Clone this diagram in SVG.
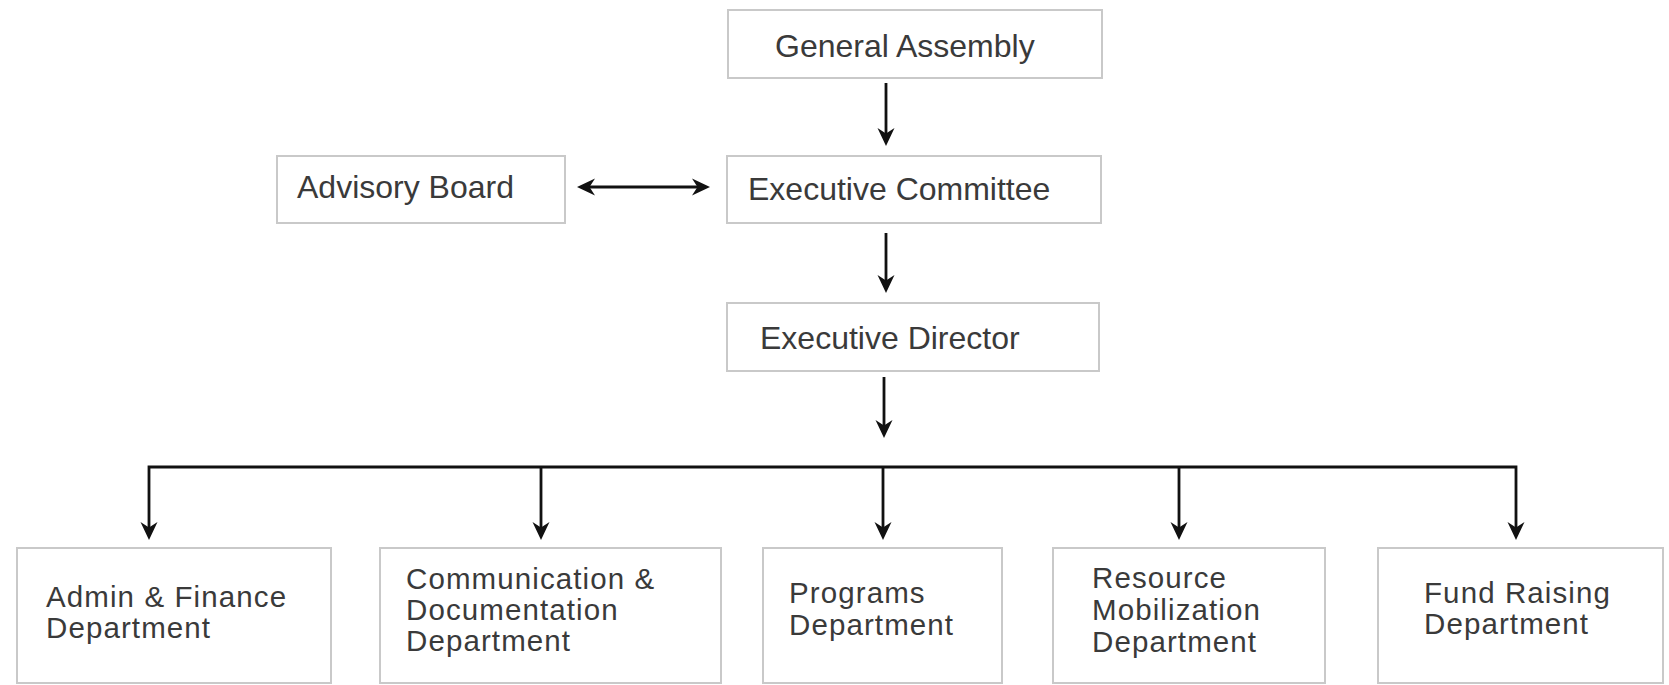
<svg xmlns="http://www.w3.org/2000/svg" width="1669" height="685" viewBox="0 0 1669 685">
<style>
.box{fill:#ffffff;stroke:#c9c9c9;stroke-width:2}
.lbl{font-family:"Liberation Sans",Arial,Helvetica,sans-serif;font-size:32px;fill:#3a3a3a}
.lbl2{font-family:"Liberation Sans",Arial,Helvetica,sans-serif;font-size:29.5px;letter-spacing:1.1px;fill:#3a3a3a}
.con{fill:none;stroke:#111111;stroke-width:2.8;stroke-linejoin:miter}
</style>
<defs>
<marker id="ah" viewBox="-9 -9 18 18" refX="0" refY="0" markerWidth="18" markerHeight="18" markerUnits="userSpaceOnUse" orient="auto-start-reverse">
<path d="M9,0 L-9,-8.5 L-3.5,0 L-9,8.5 Z" fill="#111111"/>
</marker>
</defs>
<rect width="1669" height="685" fill="#ffffff"/>
<g id="connectors">
<line class="con" x1="886" y1="83" x2="886" y2="137" marker-end="url(#ah)"/>
<line class="con" x1="886" y1="233" x2="886" y2="284" marker-end="url(#ah)"/>
<line class="con" x1="884" y1="377" x2="884" y2="429" marker-end="url(#ah)"/>
<line class="con" x1="586" y1="187" x2="701" y2="187" marker-start="url(#ah)" marker-end="url(#ah)"/>
<path class="con" d="M149,531 V467 H1516 V531" marker-start="url(#ah)" marker-end="url(#ah)"/>
<line class="con" x1="541" y1="467" x2="541" y2="531" marker-end="url(#ah)"/>
<line class="con" x1="883" y1="467" x2="883" y2="531" marker-end="url(#ah)"/>
<line class="con" x1="1179" y1="467" x2="1179" y2="531" marker-end="url(#ah)"/>
</g>
<g id="general-assembly">
<rect class="box" x="728" y="10" width="374" height="68"/>
<text class="lbl" x="775" y="57">General Assembly</text>
</g>
<g id="advisory-board">
<rect class="box" x="277" y="156" width="288" height="67"/>
<text class="lbl" x="297" y="198">Advisory Board</text>
</g>
<g id="executive-committee">
<rect class="box" x="727" y="156" width="374" height="67"/>
<text class="lbl" x="748" y="200">Executive Committee</text>
</g>
<g id="executive-director">
<rect class="box" x="727" y="303" width="372" height="68"/>
<text class="lbl" x="760" y="349">Executive Director</text>
</g>
<g id="admin-finance">
<rect class="box" x="17" y="548" width="314" height="135"/>
<text class="lbl2" x="46" y="607">Admin &amp; Finance</text>
<text class="lbl2" x="46" y="638">Department</text>
</g>
<g id="communication-documentation">
<rect class="box" x="380" y="548" width="341" height="135"/>
<text class="lbl2" x="406" y="589">Communication &amp;</text>
<text class="lbl2" x="406" y="620">Documentation</text>
<text class="lbl2" x="406" y="651">Department</text>
</g>
<g id="programs">
<rect class="box" x="763" y="548" width="239" height="135"/>
<text class="lbl2" x="789" y="603">Programs</text>
<text class="lbl2" x="789" y="635">Department</text>
</g>
<g id="resource-mobilization">
<rect class="box" x="1053" y="548" width="272" height="135"/>
<text class="lbl2" x="1092" y="588">Resource</text>
<text class="lbl2" x="1092" y="620">Mobilization</text>
<text class="lbl2" x="1092" y="652">Department</text>
</g>
<g id="fund-raising">
<rect class="box" x="1378" y="548" width="285" height="135"/>
<text class="lbl2" x="1424" y="603">Fund Raising</text>
<text class="lbl2" x="1424" y="634">Department</text>
</g>
</svg>
